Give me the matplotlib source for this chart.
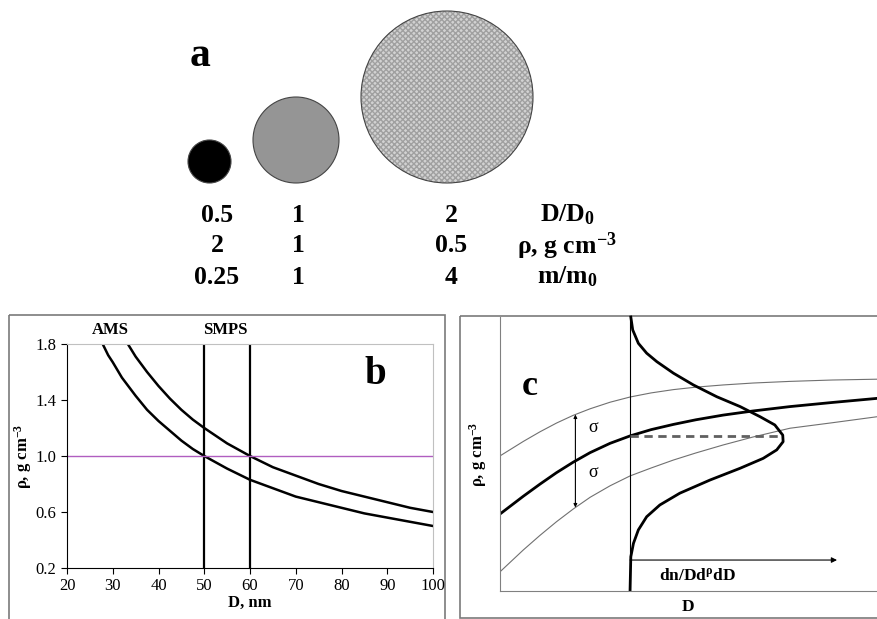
import numpy as np
import matplotlib
matplotlib.use("Agg")
import matplotlib.pyplot as plt
from matplotlib.patches import Circle, Rectangle

plt.rcParams['font.family'] = ['Liberation Serif', 'DejaVu Serif']

# --- panel a: three particles ---
size_ratio = [0.5, 1, 2]       # D/D0
density = [2, 1, 0.5]          # rho, g cm-3
mass_ratio = [0.25, 1, 4]      # m/m0
row_names = [r'D/D$\mathregular{_0}$', r'ρ, g cm$\mathregular{^{-3}}$', r'm/m$\mathregular{_0}$']

# --- panel b: effective density vs diameter ---
d_lower = [27.8, 29, 30, 32, 35, 37.5, 40, 42.5, 45, 47.5, 50, 55, 60, 65, 70, 75, 80, 85, 90, 95, 100]
rho_lower = [1.8, 1.72, 1.67, 1.56, 1.43, 1.33, 1.25, 1.18, 1.11, 1.05, 1.0, 0.91, 0.83, 0.77,
             0.71, 0.67, 0.63, 0.59, 0.56, 0.53, 0.5]
d_upper = [33.3, 35, 37.5, 40, 42.5, 45, 47.5, 50, 55, 60, 65, 70, 75, 80, 85, 90, 95, 100]
rho_upper = [1.8, 1.71, 1.6, 1.5, 1.41, 1.33, 1.26, 1.2, 1.09, 1.0, 0.92, 0.86, 0.8, 0.75,
             0.71, 0.67, 0.63, 0.6]
smps_d = [50, 60]
rho_ref = 1.0

# --- panel c: schematic (arbitrary units 0-100) ---
c_x = [0, 6.2, 10.6, 15.0, 19.4, 23.9, 29.2, 34.5, 40.1, 46.0, 52.0, 59.2, 67.1, 76.9, 88.1, 100]
c_upper = [49.3, 54.6, 58.1, 61.3, 64.1, 66.5, 68.9, 70.8, 72.3, 73.5, 74.4, 75.2, 75.9, 76.5, 77.0, 77.3]
c_mid = [28.1, 34.6, 39.0, 43.2, 47.0, 50.5, 53.9, 56.6, 58.9, 60.8, 62.5, 64.2, 65.7, 67.3, 68.8, 70.3]
c_lower = [7.0, 15.0, 20.3, 25.3, 29.9, 34.2, 38.4, 42.0, 44.9, 47.8, 50.4, 53.3, 56.2, 59.4, 61.4, 63.6]
dist_x = [34.5, 34.7, 35.4, 36.7, 38.9, 42.4, 47.7, 55.7, 63.7, 69.8, 73.4, 75.1, 75.0, 72.9,
          69.0, 63.7, 57.5, 51.3, 46.0, 41.6, 38.9, 36.7, 35.2, 34.7]
dist_y = [0.4, 12.5, 17.4, 22.3, 27.1, 31.4, 35.7, 40.5, 44.8, 48.4, 51.5, 54.5, 56.9, 60.6,
          63.6, 67.3, 70.9, 75.2, 79.5, 83.7, 86.8, 90.4, 95.3, 100]
d_sel = 34.5
sigma_x = 20.0

fig = plt.figure(figsize=(8.77, 6.19), dpi=100)

# full-figure axes in pixel units for panel a and the frames
ax_a = fig.add_axes([0, 0, 1, 1])
ax_a.set_xlim(0, 877)
ax_a.set_ylim(619, 0)
ax_a.axis('off')

r0 = 43
left = 188
faces = ['black', '#959595', '#d2d2d2']
for i, s in enumerate(size_ratio):
    r = s * r0
    cx = left + r
    if i == 2:
        ax_a.add_patch(Circle((cx, 183 - r), r, facecolor=faces[i], edgecolor='#a0a0a0',
                              lw=0, hatch='xxxxxx'))
    else:
        ax_a.add_patch(Circle((cx, 183 - r), r, facecolor=faces[i], lw=0))
    ax_a.add_patch(Circle((cx, 183 - r), r, facecolor='none', edgecolor='#444444', lw=0.8))
    left = cx + r + 22

ax_a.text(200, 56, 'a', fontsize=30, fontweight='bold', ha='center', va='center')
col_x = [217, 298, 451]
row_y = [215, 246, 277]
for vals, y, name in zip([size_ratio, density, mass_ratio], row_y, row_names):
    for v, x in zip(vals, col_x):
        ax_a.text(x, y, f'{v:g}', fontsize=18.5, fontweight='bold', ha='center', va='center')
    ax_a.text(567, y, name, fontsize=18.5, fontweight='bold', ha='center', va='center')

ax_a.add_patch(Rectangle((9, 315), 436, 320, facecolor='none', edgecolor='#7a7a7a', lw=1.2))
ax_a.add_patch(Rectangle((460, 316), 430, 302, facecolor='none', edgecolor='#7a7a7a', lw=1.2))

# panel b
ax_b = fig.add_axes([67 / 877, (619 - 568) / 619, 366 / 877, 224 / 619])
ax_b.set_facecolor('none')
ax_b.plot(d_lower, rho_lower, color='black', lw=1.8)
ax_b.plot(d_upper, rho_upper, color='black', lw=1.8)
for d in smps_d:
    ax_b.axvline(d, color='black', lw=1.6)
ax_b.axhline(rho_ref, color='#b05ec0', lw=1.0)
ax_b.set_xlim(20, 100)
ax_b.set_ylim(0.2, 1.8)
ax_b.set_xticks(np.arange(20, 101, 10))
ax_b.set_yticks([0.2, 0.6, 1.0, 1.4, 1.8])
ax_b.set_yticklabels(['0.2', '0.6', '1.0', '1.4', '1.8'])
ax_b.tick_params(labelsize=12, direction='out', length=4, width=0.8)
for s in ['top', 'right']:
    ax_b.spines[s].set_color('#c0c0c0')
for s in ['left', 'bottom']:
    ax_b.spines[s].set_color('black')
ax_b.set_xlabel('D, nm', fontsize=12, fontweight='bold', labelpad=0)
ax_b.set_ylabel(r'ρ, g cm$\mathregular{^{-3}}$', fontsize=12, fontweight='bold', labelpad=1)
ax_b.text(29.5, 1.9, 'AMS', fontsize=12, fontweight='bold', ha='center', va='center', clip_on=False)
ax_b.text(54.5, 1.9, 'SMPS', fontsize=12, fontweight='bold', ha='center', va='center', clip_on=False)
ax_b.text(87.3, 1.58, 'b', fontsize=28, fontweight='bold', ha='center', va='center')

# panel c
ax_c = fig.add_axes([500 / 877, (619 - 591) / 619, 377 / 877, 274 / 619])
ax_c.set_facecolor('none')
ax_c.set_xlim(0, 100)
ax_c.set_ylim(0, 100)
ax_c.plot(c_x, c_upper, color='#707070', lw=0.8)
ax_c.plot(c_x, c_lower, color='#707070', lw=0.8)
ax_c.plot(c_x, c_mid, color='black', lw=2.0)
ax_c.axvline(d_sel, color='black', lw=0.8)
ax_c.plot(dist_x, dist_y, color='black', lw=2.0, clip_on=False)
peak = int(np.argmax(dist_x))
y_sel = np.interp(d_sel, c_x, c_mid)
ax_c.plot([d_sel, dist_x[peak] - 0.8], [y_sel, y_sel], color='#606060', lw=2.0, ls=(0, (3, 2)))
ax_c.annotate('', xy=(89.4, 11.3), xytext=(d_sel, 11.3),
              arrowprops=dict(arrowstyle='-|>', color='black', lw=0.8, mutation_scale=8,
                              shrinkA=0, shrinkB=0))
s_top = np.interp(sigma_x, c_x, c_upper)
s_mid = np.interp(sigma_x, c_x, c_mid)
s_bot = np.interp(sigma_x, c_x, c_lower)
for y0, y1 in [(s_mid, s_top), (s_mid, s_bot)]:
    ax_c.annotate('', xy=(sigma_x, y1), xytext=(sigma_x, y0),
                  arrowprops=dict(arrowstyle='-|>', color='black', lw=0.8, mutation_scale=5,
                                  shrinkA=0, shrinkB=0))
ax_c.text(24.6, 59.5, 'σ', fontsize=13, ha='center', va='center')
ax_c.text(24.6, 43.1, 'σ', fontsize=13, ha='center', va='center')
ax_c.text(8.0, 74.5, 'c', fontsize=26, fontweight='bold', ha='center', va='center')
ax_c.text(52.3, 5.5, r'dn/Dd$\mathregular{^{ρ}}$dD', fontsize=12.5, fontweight='bold',
          ha='center', va='center')
ax_c.set_xticks([])
ax_c.set_yticks([])
for s in ['top', 'right']:
    ax_c.spines[s].set_visible(False)
for s in ['left', 'bottom']:
    ax_c.spines[s].set_color('#808080')
    ax_c.spines[s].set_linewidth(0.8)
ax_c.set_xlabel('D', fontsize=12.5, fontweight='bold', labelpad=6)
ax_c.set_ylabel(r'ρ, g cm$\mathregular{^{-3}}$', fontsize=12, fontweight='bold', labelpad=8)

fig.savefig('out.png', dpi=100)
